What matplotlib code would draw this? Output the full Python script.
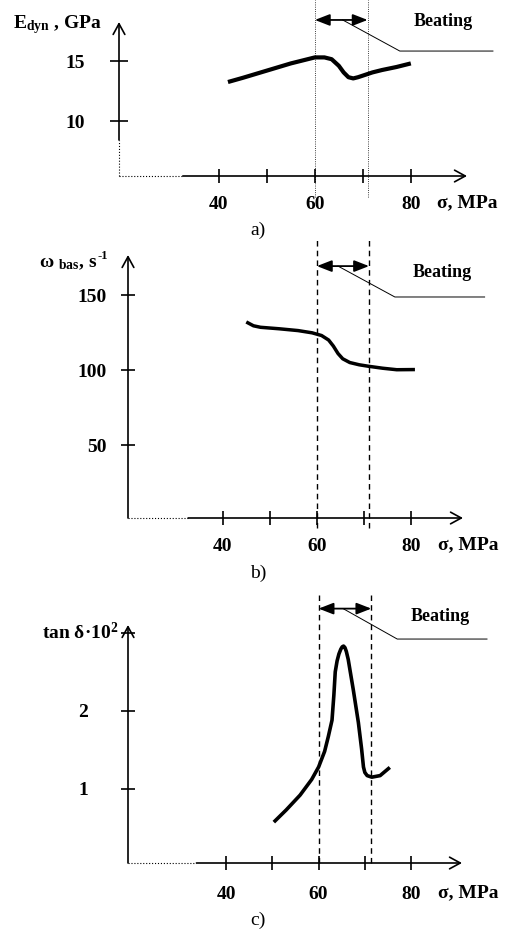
import matplotlib
matplotlib.use('Agg')
import matplotlib.pyplot as plt

plt.rcParams['font.family'] = ['Liberation Serif', 'DejaVu Serif']
plt.rcParams['font.weight'] = 'bold'
plt.rcParams['mathtext.fontset'] = 'custom'
plt.rcParams['mathtext.rm'] = 'Liberation Serif:bold'
plt.rcParams['mathtext.it'] = 'Liberation Serif:bold'
plt.rcParams['mathtext.bf'] = 'Liberation Serif:bold'

# data
sigma_a = [41.9, 45, 50, 55, 58, 60, 62, 63.5, 65, 66, 67, 68, 69, 70.5, 72, 74, 77, 80]
E_dyn = [13.25, 13.6, 14.2, 14.8, 15.1, 15.3, 15.3, 15.15, 14.6, 14.05, 13.65, 13.55,
         13.65, 13.85, 14.05, 14.25, 14.5, 14.8]

sigma_b = [45.3, 46.5, 48, 52, 56, 59, 61, 62.5, 63.5, 64.5, 65.5, 67, 69, 71, 74, 77, 80.5]
omega_bas = [131.5, 129.5, 128.5, 127.5, 126.3, 124.8, 123, 120, 116, 111, 107.5, 105,
             103.5, 102.5, 101.2, 100.2, 100.3]

sigma_c = [50.6, 53, 56, 58.5, 60, 61.3, 62.1, 62.9, 63.3, 63.6, 64.0, 64.4, 64.8, 65.1,
           65.4, 65.7, 66.0, 66.4, 67.5, 68.6, 69.3, 69.7, 70.0, 70.5, 71.5, 73.3, 75.1]
tan_delta = [0.59, 0.73, 0.92, 1.12, 1.28, 1.48, 1.67, 1.88, 2.2, 2.5, 2.64, 2.73, 2.79,
             2.82, 2.83, 2.81, 2.76, 2.66, 2.27, 1.85, 1.51, 1.28, 1.21, 1.17, 1.15, 1.17, 1.26]

x_ticks = [40, 50, 60, 70, 80]
x_ticklabels = ['40', '', '60', '', '80']

W, H = 507, 931
fig = plt.figure(figsize=(W / 100, H / 100), dpi=100)


def px(x, y):
    return x / W, 1 - y / H


def make_axes(left, right, top, bottom):
    return fig.add_axes([left / W, 1 - bottom / H, (right - left) / W, (bottom - top) / H])


def axis_lines(ax, xdot_end, ydot_end=None):
    x0, x1 = ax.get_xlim()
    y0, y1 = ax.get_ylim()
    arr = dict(arrowstyle='->, head_length=0.55, head_width=0.3', mutation_scale=14,
               lw=1.2, color='black', shrinkA=0, shrinkB=0)
    # x axis: dotted piece, then solid with arrow
    ax.plot([x0, xdot_end], [y0, y0], color='black', lw=0.8, ls=':', clip_on=False)
    ax.annotate('', xy=(x1, y0), xytext=(xdot_end, y0), arrowprops=arr, annotation_clip=False)
    if ydot_end is None:
        ax.annotate('', xy=(x0, y1), xytext=(x0, y0), arrowprops=arr, annotation_clip=False)
    else:
        ax.plot([x0, x0], [y0, ydot_end], color='black', lw=0.8, ls=':', clip_on=False)
        ax.annotate('', xy=(x0, y1), xytext=(x0, ydot_end), arrowprops=arr, annotation_clip=False)
    for s in ax.spines.values():
        s.set_visible(False)
    ax.patch.set_visible(False)


def beating(ax, x1, x2, y_arr, x_lead, x_bend, y_bend, x_end, x_txt, y_txt):
    ax.annotate('', xy=(x1, y_arr), xytext=(x2, y_arr), annotation_clip=False,
                arrowprops=dict(arrowstyle='<|-|>, head_length=0.9, head_width=0.35',
                                mutation_scale=10, lw=1.3, color='black',
                                shrinkA=0, shrinkB=0))
    ax.plot([x_lead, x_bend, x_end], [y_arr, y_bend, y_bend], color='black', lw=0.7,
            clip_on=False)
    ax.text(x_txt, y_txt, 'Beating', ha='center', va='center', fontsize=13,
            fontweight='bold')


# ---------- a) ----------
ax1 = make_axes(119, 467, 22, 176)
ax1.set_xlim(19.2, 91.7)
ax1.set_ylim(5.42, 18.25)
ax1.plot(sigma_a, E_dyn, color='black', lw=3.0, solid_capstyle='butt')
for xv in (60, 71):
    ax1.plot([xv, xv], [3.67, 20.1], color='black', lw=0.6, ls=':', clip_on=False)
axis_lines(ax1, 32.5, 8.42)
ax1.set_xticks(x_ticks, x_ticklabels)
ax1.set_yticks([10, 15])
ax1.tick_params(axis='x', direction='inout', length=9.5, width=1.2, pad=10, labelsize=14)
ax1.tick_params(axis='y', direction='inout', length=13, width=1.2, pad=18, labelsize=14)
beating(ax1, 60, 71, 18.42, 65.8, 77.7, 15.83, 97.1, 86.7, 18.25)

fig.text(*px(102, 25), 'E$_{\\mathrm{dyn}}$ , GPa', ha='right', va='center', fontsize=14)
fig.text(*px(437, 203), 'σ, MPa', ha='left', va='center', fontsize=14)
fig.text(*px(258, 230), 'a)', ha='center', va='center', fontsize=14, fontweight='normal')

# ---------- b) ----------
ax2 = make_axes(128, 463, 255, 518)
ax2.set_xlim(19.8, 91.1)
ax2.set_ylim(1.33, 176.7)
ax2.plot(sigma_b, omega_bas, color='black', lw=2.5)
for xv in (60, 71.1):
    ax2.plot([xv, xv], [-5.3, 186.7], color='black', lw=1.0, ls=(0, (4, 3)), clip_on=False)
axis_lines(ax2, 32.6)
ax2.set_xticks(x_ticks, x_ticklabels)
ax2.set_yticks([50, 100, 150])
ax2.tick_params(axis='x', direction='inout', length=9.5, width=1.2, pad=10, labelsize=14)
ax2.tick_params(axis='y', direction='inout', length=10, width=1.2, pad=10, labelsize=14)
beating(ax2, 60, 71.1, 169.3, 64.5, 76.6, 148.7, 95.7, 86.6, 164.7)

fig.text(*px(97, 263), 'ω $_{\\mathrm{bas}}$, s', ha='right', va='center', fontsize=14)
fig.text(*px(97, 256), '-1', ha='left', va='center', fontsize=9)
fig.text(*px(438, 545), 'σ, MPa', ha='left', va='center', fontsize=14)
fig.text(*px(258, 573), 'b)', ha='center', va='center', fontsize=14, fontweight='normal')

# ---------- c) ----------
ax3 = make_axes(128, 462, 625, 863)
ax3.set_xlim(18.8, 91.0)
ax3.set_ylim(0.05, 3.10)
ax3.plot(sigma_c, tan_delta, color='black', lw=2.6)
for xv in (60, 71.4):
    ax3.plot([xv, xv], [0.05, 3.49], color='black', lw=1.0, ls=(0, (4, 3)), clip_on=False)
axis_lines(ax3, 33.6)
ax3.set_xticks(x_ticks, x_ticklabels)
ax3.set_yticks([1, 2, 3], ['1', '2', ''])
ax3.tick_params(axis='x', direction='inout', length=9.5, width=1.2, pad=12, labelsize=14)
ax3.tick_params(axis='y', direction='inout', length=10, width=1.2, pad=24, labelsize=14)
beating(ax3, 60, 71.4, 3.31, 65.3, 77.0, 2.92, 96.4, 86.3, 3.21)

fig.text(*px(118, 633), 'tan δ·10$^{\\mathrm{2}}$', ha='right', va='center', fontsize=14)
fig.text(*px(438, 893), 'σ, MPa', ha='left', va='center', fontsize=14)
fig.text(*px(258, 920), 'c)', ha='center', va='center', fontsize=14, fontweight='normal')

fig.savefig('out.png', dpi=100)
